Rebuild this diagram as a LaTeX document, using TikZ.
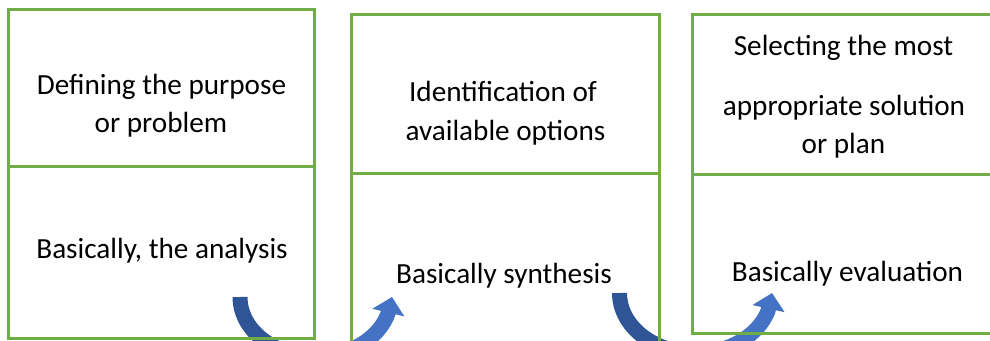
\documentclass[tikz,border=0pt]{standalone}
\usepackage{fontspec}
\setmainfont{Carlito}
\usetikzlibrary{arrows.meta}
\definecolor{cgreen}{HTML}{70AD47}
\definecolor{cdark}{HTML}{2F5597}
\definecolor{clight}{HTML}{4472C4}
\tikzset{
  every picture/.style={x=1pt, y=1pt},
  panel/.style={draw=cgreen, line width=3pt},
  txt/.style={anchor=base, inner sep=0pt, font=\fontsize{29.2}{38}\selectfont},
  back/.style={draw=cdark, line width=15pt},
  front/.style={draw=clight, line width=15pt, -{Triangle[width=32pt, length=16pt]}},
}

\begin{document}
\begin{tikzpicture}
  \useasboundingbox (0,0) rectangle (990,-340);
  \clip (0,0) rectangle (990,-340);
  % \stage{left}{right}{top}{divider}{bottom}
  \newcommand{\stage}[5]{
    \draw[panel] (#1,-#3) rectangle (#2,-#5);
    \draw[panel] (#1,-#4) -- (#2,-#4);}
  % curved arrows, running below the frame
  \coordinate (s1) at (240,-297);
  \coordinate (b1) at (315.5,-356.5);
  \coordinate (t1) at (392,-297);
  \coordinate (s2) at (619.5,-293);
  \coordinate (b2) at (695.5,-353);
  \coordinate (t2) at (772,-293);
  \draw[back] (s1) arc[start angle=180, end angle=270, x radius=75.5, y radius=59.5];
  \draw[front] (b1) arc[start angle=270, end angle=344.4, x radius=75.5, y radius=59.5] -- (t1);
  \draw[back] (s2) arc[start angle=180, end angle=270, x radius=76, y radius=60];
  \draw[front] (b2) arc[start angle=270, end angle=342.5, x radius=76, y radius=60] -- (t2);
  \stage{8}{314}{9}{166}{338}
  \stage{351}{659}{14}{173}{345}
  \stage{692}{995}{14}{174}{333}
  \node[txt] (def1) at (161.5,-94) {Defining the purpose};
  \node[txt] (def2) at (161,-132) {or problem};
  \node[txt] (ana) at (162,-258) {Basically, the analysis};
  \node[txt] (idn1) at (503,-101) {Identification of};
  \node[txt] (idn2) at (505.5,-140) {available options};
  \node[txt] (syn) at (504,-283) {Basically synthesis};
  \node[txt] (sel1) at (843.5,-55) {Selecting the most};
  \node[txt] (sel2) at (844,-115) {appropriate solution};
  \node[txt] (sel3) at (843.5,-153) {or plan};
  \node[txt] (eva) at (847.5,-281) {Basically evaluation};
\end{tikzpicture}
\end{document}
